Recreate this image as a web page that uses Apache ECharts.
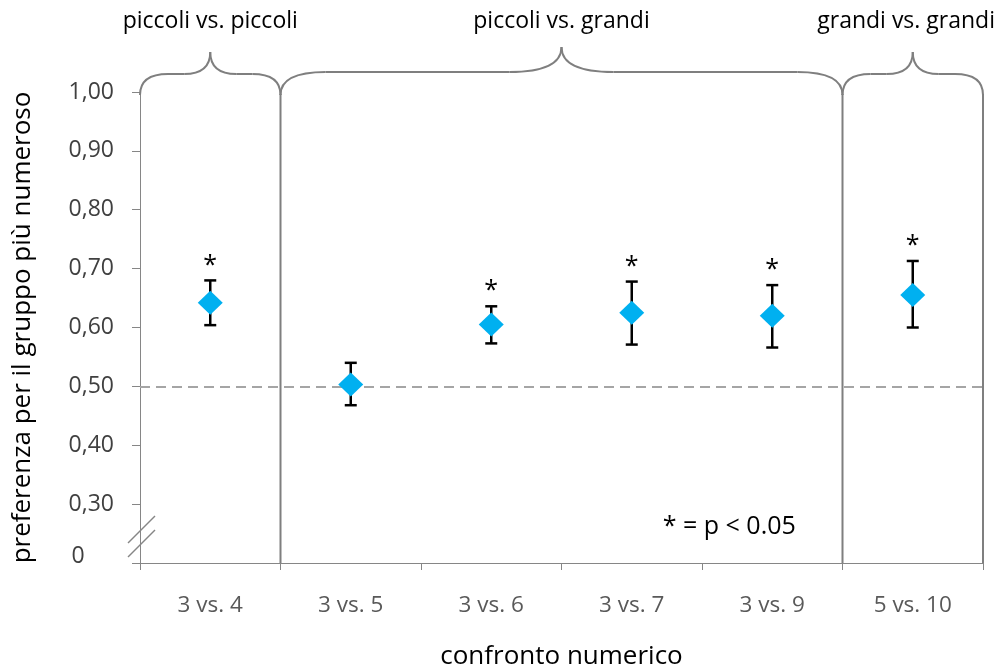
<!DOCTYPE html>
<html>
<head>
<meta charset="utf-8">
<script src="https://cdn.jsdelivr.net/npm/echarts@6/dist/echarts.min.js"></script>
<style>
  html, body { margin: 0; padding: 0; background: #fff; }
  #chart { width: 998px; height: 670px; }
</style>
</head>
<body>
<div id="chart"></div>
<script>
// Comparisons and mean preference for the larger group, with error-bar bounds
const categories = ['3 vs. 4', '3 vs. 5', '3 vs. 6', '3 vs. 7', '3 vs. 9', '5 vs. 10'];
const means = [0.642, 0.503, 0.605, 0.625, 0.620, 0.655];
const lower = [0.604, 0.468, 0.573, 0.571, 0.566, 0.600];
const upper = [0.680, 0.540, 0.636, 0.678, 0.672, 0.713];
const significant = [true, false, true, true, true, true];

// Category groups shown with braces above the plot
const groupLabels = ['piccoli vs. piccoli', 'piccoli vs. grandi', 'grandi vs. grandi'];
const groupFrom = [0, 1, 5];
const groupTo = [0, 4, 5];

// Y axis range and reference level
const yMin = 0.2, yMax = 1.0, yStep = 0.1;
const chanceLevel = 0.5;
const breakLabel = '0';
const noteText = '* = p < 0.05';

const FONT = '"Open Sans", "Noto Sans", sans-serif';
const GRAY = '#868686';
const BRACE = '#7f7f7f';

const chart = echarts.init(document.getElementById('chart'), null, { renderer: 'canvas' });

const errData = categories.map((c, i) => [i, lower[i], upper[i], significant[i] ? 1 : 0]);
const meanData = categories.map((c, i) => [i, means[i]]);

chart.setOption({
  animation: false,
  grid: { left: 140, right: 15, top: 92, bottom: 107, containLabel: false, outerBoundsMode: 'none' },
  xAxis: {
    type: 'category',
    data: categories,
    boundaryGap: true,
    name: 'confronto numerico',
    nameLocation: 'middle',
    nameGap: 81,
    nameTextStyle: { fontFamily: FONT, fontSize: 26, color: '#000' },
    axisLine: { lineStyle: { color: GRAY, width: 1 } },
    axisTick: { show: true, length: 7, lineStyle: { color: GRAY } },
    axisLabel: { margin: 31, fontFamily: FONT, fontSize: 22.5, color: '#595959' },
    splitLine: { show: false }
  },
  yAxis: {
    type: 'value',
    min: yMin, max: yMax, interval: yStep,
    name: 'preferenza per il gruppo più numeroso',
    nameLocation: 'middle',
    nameGap: 104,
    nameTextStyle: { fontFamily: FONT, fontSize: 26, color: '#000' },
    axisLine: { show: true, lineStyle: { color: GRAY, width: 1 } },
    axisTick: { show: true, length: 8, lineStyle: { color: GRAY } },
    axisLabel: {
      margin: 26, fontFamily: FONT, fontSize: 23, color: '#404040',
      formatter: v => (v < yMin + yStep / 2 ? '' : v.toFixed(2).replace('.', ','))
    },
    splitLine: { show: false }
  },
  series: [
    {
      type: 'custom',
      name: 'errore',
      data: errData,
      z: 2,
      renderItem: (params, api) => {
        const i = api.value(0);
        const lo = api.coord([i, api.value(1)]);
        const hi = api.coord([i, api.value(2)]);
        const cap = 6;
        const style = { stroke: '#000', lineWidth: 2.5 };
        const children = [
          { type: 'line', shape: { x1: lo[0], y1: lo[1], x2: hi[0], y2: hi[1] }, style },
          { type: 'line', shape: { x1: hi[0] - cap, y1: hi[1], x2: hi[0] + cap, y2: hi[1] }, style },
          { type: 'line', shape: { x1: lo[0] - cap, y1: lo[1], x2: lo[0] + cap, y2: lo[1] }, style }
        ];
        if (api.value(3)) {
          children.push({
            type: 'text',
            style: {
              text: '*', x: hi[0], y: hi[1] - 15,
              textAlign: 'center', textVerticalAlign: 'middle',
              font: '25px ' + FONT, fill: '#000'
            }
          });
        }
        return { type: 'group', children };
      }
    },
    {
      type: 'scatter',
      name: 'media',
      data: meanData,
      symbol: 'diamond',
      symbolSize: [25, 24],
      itemStyle: { color: '#00b0f0', opacity: 1 },
      z: 5,
      markLine: {
        silent: true,
        symbol: ['none', 'none'],
        label: { show: false },
        lineStyle: { color: '#a5a5a5', type: [10, 6], width: 2 },
        data: [{ yAxis: chanceLevel }]
      }
    }
  ]
});

// Separators, braces and annotations, positioned from the axes' own scales
function drawOverlays() {
  const px = i => chart.convertToPixel({ xAxisIndex: 0 }, i);
  const py = v => chart.convertToPixel({ yAxisIndex: 0 }, v);
  const w = px(1) - px(0);
  const leftEdge = i => px(i) - w / 2;
  const rightEdge = i => px(i) + w / 2;
  const yTop = py(yMax);
  const yBot = py(yMin);
  const W = chart.getWidth();

  const labelFont = '23px ' + FONT;
  const ctx = document.createElement('canvas').getContext('2d');
  ctx.font = labelFont;

  const braceStyle = { stroke: BRACE, lineWidth: 2, fill: 'none' };
  const g = [];

  // vertical separators between groups and at the right end
  groupTo.forEach(t => {
    const x = rightEdge(t);
    g.push({
      type: 'line', z: 1,
      shape: { x1: x, y1: yTop + 2, x2: x, y2: yBot },
      style: { stroke: BRACE, lineWidth: 2 }
    });
  });

  groupLabels.forEach((lab, k) => {
    const x0 = leftEdge(groupFrom[k]);
    const x1 = rightEdge(groupTo[k]);
    const xm = (x0 + x1) / 2;
    const big = (x1 - x0) > 2 * w;
    const yb = yTop + 3;
    const ya = yb - (big ? 23 : 21);
    const yt = yb - (big ? 48 : 43);
    const r = big ? 45 : 28;
    const rt = big ? 52 : 26;
    const lift = ya - (ya - yt) * 0.35;
    // left corner, arm, left half of the tip, and their mirror images
    g.push({ type: 'bezierCurve', z: 1, style: braceStyle,
      shape: { x1: x0, y1: yb, x2: x0 + r, y2: ya, cpx1: x0, cpy1: ya } });
    g.push({ type: 'line', z: 1, style: braceStyle,
      shape: { x1: x0 + r, y1: ya, x2: xm - rt, y2: ya } });
    g.push({ type: 'bezierCurve', z: 1, style: braceStyle,
      shape: { x1: xm - rt, y1: ya, x2: xm, y2: yt, cpx1: xm - rt * 0.3, cpy1: ya, cpx2: xm, cpy2: lift } });
    g.push({ type: 'bezierCurve', z: 1, style: braceStyle,
      shape: { x1: xm + rt, y1: ya, x2: xm, y2: yt, cpx1: xm + rt * 0.3, cpy1: ya, cpx2: xm, cpy2: lift } });
    g.push({ type: 'line', z: 1, style: braceStyle,
      shape: { x1: x1 - r, y1: ya, x2: xm + rt, y2: ya } });
    g.push({ type: 'bezierCurve', z: 1, style: braceStyle,
      shape: { x1: x1, y1: yb, x2: x1 - r, y2: ya, cpx1: x1, cpy1: ya } });

    const tw = ctx.measureText(lab).width;
    const cx = Math.min(xm, W - 3 - tw / 2);
    g.push({
      type: 'text', z: 3,
      style: {
        text: lab, x: cx, y: 21,
        textAlign: 'center', textVerticalAlign: 'middle',
        font: labelFont, fill: '#000'
      }
    });
  });

  // axis break marks and the "0" label
  const xa = leftEdge(0);
  [0, 14].forEach(off => {
    g.push({
      type: 'line', z: 3,
      shape: { x1: xa - 12, y1: yBot - 20 + off, x2: xa + 15, y2: yBot - 47 + off },
      style: { stroke: GRAY, lineWidth: 1.5 }
    });
  });
  g.push({
    type: 'text', z: 3,
    style: {
      text: breakLabel, x: xa - 62, y: yBot - 7,
      textAlign: 'center', textVerticalAlign: 'middle',
      font: '23px ' + FONT, fill: '#404040'
    }
  });

  // significance note
  g.push({
    type: 'text', z: 3,
    style: {
      text: noteText, x: px(4) - 43, y: yBot - 36,
      textAlign: 'center', textVerticalAlign: 'middle',
      font: '25px ' + FONT, fill: '#000'
    }
  });

  chart.setOption({ graphic: g });
}
drawOverlays();
</script>
</body>
</html>
